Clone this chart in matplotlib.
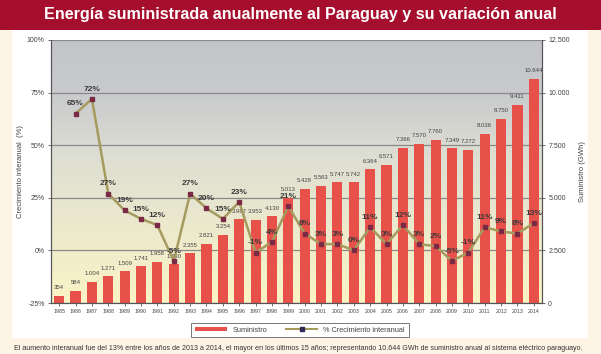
import numpy as np
import matplotlib
matplotlib.use('Agg')
import matplotlib.pyplot as plt
from matplotlib.patches import Rectangle, Patch
from matplotlib.lines import Line2D
from matplotlib.colors import LinearSegmentedColormap

years = list(range(1985, 2015))
suministro = [354, 584, 1004, 1271, 1509, 1741, 1958, 1830, 2355, 2821,
              3254, 3987, 3953, 4130, 5013, 5428, 5563, 5747, 5742, 6364,
              6571, 7366, 7570, 7760, 7349, 7272, 8036, 8750, 9411, 10644]
# first year has no variation
crecimiento = [None, 65, 72, 27, 19, 15, 12, -5, 27, 20,
               15, 23, -1, 4, 21, 8, 3, 3, 0, 11,
               3, 12, 3, 2, -5, -1, 11, 9, 8, 13]
pct_ticks = [-25, 0, 25, 50, 75, 100]
gwh_ticks = [0, 2500, 5000, 7500, 10000, 12500]

title = 'Energía suministrada anualmente al Paraguay y su variación anual'
footer = ('El aumento interanual fue del 13% entre los años de 2013 a 2014, el mayor en los últimos 15 años; '
          'representando 10.644 GWh de suministro anual al sistema eléctrico paraguayo.')

plt.rcParams['font.family'] = ['Liberation Sans', 'DejaVu Sans']

W, H = 601, 354
fig = plt.figure(figsize=(W / 100, H / 100), dpi=100)
fig.patch.set_facecolor('#fdf4e6')

# white panel and title band
fig.add_artist(Rectangle((12 / W, 1 - 338 / H), 576 / W, 308 / H, transform=fig.transFigure,
                         facecolor='white', edgecolor='none', zorder=0))
fig.add_artist(Rectangle((0, 1 - 30 / H), 1, 30 / H, transform=fig.transFigure,
                         facecolor='#a50f2d', edgecolor='none', zorder=0))
fig.text(0.5, 1 - 15 / H, title, ha='center', va='center', color='white',
         fontsize=11.6, fontweight='bold', family=['Liberation Sans', 'DejaVu Sans'])

ax = fig.add_axes([51 / W, 1 - 303 / H, 491 / W, 263 / H])
ax2 = ax.twinx()

# gradient background
cmap = LinearSegmentedColormap.from_list('bg', [(0, '#fbf4c6'), (0.55, '#dedfd3'),
                                                (0.8, '#c9cacd'), (1, '#c3c5c9')])
grad = np.linspace(0, 1, 256).reshape(-1, 1)
ax2.imshow(grad, extent=[0, 1, 0, 1], transform=ax2.transAxes, cmap=cmap,
           aspect='auto', origin='lower', zorder=-2)

x = np.arange(len(years))
ax2.bar(x, suministro, width=0.62, color='#e8514a', zorder=2)
for xi, v in zip(x, suministro):
    ax2.annotate(f'{v:,}'.replace(',', '.'), (xi, v), xytext=(0, 4), textcoords='offset points',
                 ha='center', va='bottom', fontsize=4.3, color='#444444', zorder=3)

ax2.set_ylim(0, 12500)
ax2.set_yticks(gwh_ticks)
ax2.set_yticklabels([f'{t:,}'.replace(',', '.') for t in gwh_ticks], fontsize=5, color='#444444')
ax2.yaxis.grid(True, color='#8a8a8a', linewidth=0.9)
ax2.set_axisbelow(True)
ax2.set_ylabel('Suministro (GWh)', fontsize=5.5, color='#444444', labelpad=7)

# line on top of bars
ax.set_zorder(ax2.get_zorder() + 1)
ax.patch.set_visible(False)
xs = [xi for xi, c in zip(x, crecimiento) if c is not None]
cs = [c for c in crecimiento if c is not None]
ax.plot(xs, cs, color='#a59b5e', linewidth=1.8, marker='s', markersize=2.6,
        markerfacecolor='#7a2a45', markeredgecolor='#7a2a45', zorder=4)
for xi, c in zip(xs, cs):
    ax.annotate(f'{c}%', (xi, c), xytext=(0, 4.5), textcoords='offset points',
                ha='center', va='bottom', fontsize=6, fontweight='bold', color='#3a3a3a', zorder=5)

ax.set_xlim(-0.5, len(years) - 0.5)
ax.set_ylim(-25, 100)
ax.set_yticks(pct_ticks)
ax.set_yticklabels([f'{t}%' for t in pct_ticks], fontsize=5, color='#444444')
ax.set_xticks(x)
ax.set_xticklabels([str(y) for y in years], fontsize=3.8, color='#444444')
ax.set_ylabel('Crecimiento interanual  (%)', fontsize=5.5, color='#444444', labelpad=2)

for a in (ax, ax2):
    for s in a.spines.values():
        s.set_color('#555555')
        s.set_linewidth(0.8)
    a.spines['top'].set_visible(False)
    a.tick_params(length=2.5, width=0.6, color='#555555', pad=2)

handles = [Patch(facecolor='#e8514a', edgecolor='none', label='Suministro'),
           Line2D([], [], color='#a59b5e', linewidth=1.5, marker='s', markersize=2.6,
                  markerfacecolor='#2f2a5a', markeredgecolor='#2f2a5a',
                  label='% Crecimiento interanual')]
leg = fig.legend(handles=handles, loc='center', bbox_to_anchor=(300 / W, 1 - 330 / H), ncol=2,
                 fontsize=5.3, frameon=True, fancybox=False, handlelength=4.3, handleheight=0.4,
                 columnspacing=2.5, borderpad=0.5, edgecolor='#555555')
leg.get_frame().set_linewidth(0.7)
for t in leg.get_texts():
    t.set_color('#444444')

fig.text(298 / W, 1 - 348 / H, footer, ha='center', va='center', fontsize=5.1,
         color='#333333')

fig.savefig('out.png', dpi=100, facecolor=fig.get_facecolor())
